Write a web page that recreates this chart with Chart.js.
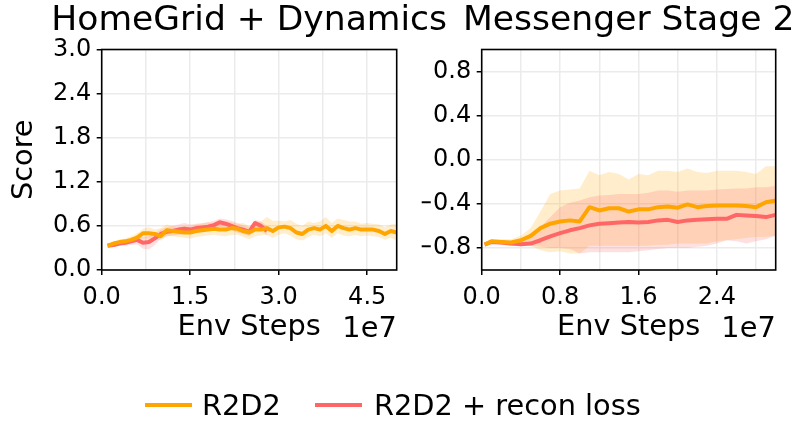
<!DOCTYPE html>
<html><head><meta charset="utf-8">
<script src="https://cdn.jsdelivr.net/npm/chart.js@4.4.1/dist/chart.umd.min.js"></script>
<style>
html,body{margin:0;padding:0;background:#fff;}
#wrap{position:relative;width:794px;height:423px;overflow:hidden;font-family:'DejaVu Sans';background:#fff;}
#wrap canvas{position:absolute;left:0;top:0;}
.lg-line{position:absolute;height:4px;}
.lg-text{position:absolute;font-size:28.8px;line-height:28.8px;color:#000;white-space:nowrap;}
</style></head><body>
<div id="wrap">
<canvas id="c1" width="794" height="423"></canvas>
<canvas id="c2" width="794" height="423"></canvas>
</div>
<script>
// ---------- data (x in units of 1e7 env steps) ----------
const SERIES_NAMES = ['R2D2', 'R2D2 + recon loss'];
const PANEL_TITLES = ['HomeGrid + Dynamics', 'Messenger Stage 2'];

// HomeGrid + Dynamics
const L_X = [0.1,0.2,0.3,0.4,0.5,0.6,0.7,0.8,0.9,1.0,1.1,1.2,1.3,1.4,1.5,1.6,1.7,1.8,1.9,2.0,2.1,2.2,2.3,2.4,2.5,2.6,2.7,2.8,2.9,3.0,3.1,3.2,3.3,3.4,3.5,3.6,3.7,3.8,3.9,4.0,4.1,4.2,4.3,4.4,4.5,4.6,4.7,4.8,4.9,5.0];
const L_R2D2 = [0.33,0.36,0.38,0.39,0.41,0.44,0.50,0.50,0.49,0.46,0.54,0.53,0.52,0.51,0.51,0.53,0.54,0.55,0.56,0.55,0.55,0.57,0.56,0.53,0.51,0.55,0.55,0.57,0.53,0.58,0.59,0.57,0.51,0.49,0.55,0.57,0.55,0.60,0.53,0.60,0.57,0.55,0.57,0.55,0.55,0.55,0.53,0.49,0.53,0.51];
const L_R2D2_UP = [0.35,0.38,0.41,0.43,0.46,0.50,0.56,0.58,0.55,0.57,0.62,0.60,0.58,0.60,0.59,0.62,0.63,0.65,0.64,0.64,0.66,0.65,0.63,0.64,0.60,0.63,0.66,0.72,0.67,0.67,0.66,0.68,0.63,0.60,0.66,0.64,0.66,0.72,0.64,0.70,0.68,0.66,0.66,0.63,0.64,0.63,0.62,0.58,0.62,0.63];
const L_R2D2_LO = [0.31,0.33,0.35,0.36,0.37,0.39,0.43,0.43,0.42,0.40,0.46,0.46,0.45,0.44,0.43,0.45,0.46,0.47,0.48,0.47,0.46,0.48,0.48,0.45,0.42,0.46,0.47,0.48,0.44,0.48,0.50,0.47,0.42,0.40,0.45,0.48,0.46,0.50,0.44,0.50,0.47,0.46,0.48,0.46,0.47,0.46,0.45,0.41,0.44,0.40];
const L_RECON = [0.33,0.34,0.36,0.37,0.39,0.41,0.37,0.38,0.43,0.49,0.52,0.53,0.55,0.56,0.55,0.57,0.58,0.59,0.61,0.65,0.63,0.60,0.57,0.55,0.52,0.64,0.60,0.53];
const L_RECON_UP = [0.35,0.36,0.38,0.40,0.43,0.46,0.45,0.46,0.50,0.55,0.58,0.60,0.62,0.64,0.62,0.63,0.64,0.65,0.67,0.70,0.69,0.67,0.64,0.61,0.58,0.68,0.66,0.60];
const L_RECON_LO = [0.31,0.32,0.33,0.33,0.34,0.35,0.29,0.28,0.34,0.43,0.46,0.47,0.48,0.49,0.49,0.51,0.52,0.53,0.55,0.59,0.57,0.54,0.51,0.49,0.46,0.58,0.54,0.47];

// Messenger Stage 2
const R_X = [0.03,0.1,0.2,0.3,0.4,0.5,0.6,0.7,0.8,0.9,1.0,1.1,1.2,1.3,1.4,1.5,1.6,1.7,1.8,1.9,2.0,2.1,2.2,2.3,2.4,2.5,2.6,2.7,2.8,2.9,3.0];
const R_R2D2 = [-0.77,-0.74,-0.745,-0.75,-0.73,-0.69,-0.62,-0.58,-0.56,-0.55,-0.56,-0.43,-0.46,-0.44,-0.44,-0.47,-0.45,-0.45,-0.43,-0.425,-0.435,-0.405,-0.43,-0.42,-0.415,-0.415,-0.415,-0.42,-0.43,-0.385,-0.37];
const R_R2D2_UP = [-0.76,-0.72,-0.72,-0.72,-0.69,-0.62,-0.47,-0.31,-0.28,-0.27,-0.26,-0.10,-0.14,-0.11,-0.13,-0.18,-0.13,-0.14,-0.10,-0.10,-0.11,-0.08,-0.11,-0.12,-0.10,-0.10,-0.10,-0.11,-0.13,-0.06,-0.06];
const R_R2D2_LO = [-0.78,-0.76,-0.77,-0.78,-0.76,-0.78,-0.82,-0.84,-0.83,-0.85,-0.85,-0.78,-0.78,-0.78,-0.78,-0.78,-0.78,-0.78,-0.77,-0.77,-0.76,-0.76,-0.76,-0.76,-0.74,-0.73,-0.72,-0.71,-0.70,-0.70,-0.69];
const R_RECON = [-0.77,-0.745,-0.75,-0.76,-0.767,-0.76,-0.73,-0.695,-0.665,-0.64,-0.62,-0.595,-0.58,-0.575,-0.57,-0.565,-0.57,-0.565,-0.55,-0.545,-0.565,-0.55,-0.545,-0.54,-0.536,-0.536,-0.50,-0.505,-0.51,-0.52,-0.50];
const R_RECON_UP = [-0.76,-0.73,-0.73,-0.74,-0.72,-0.68,-0.61,-0.52,-0.43,-0.39,-0.37,-0.34,-0.325,-0.32,-0.31,-0.31,-0.31,-0.30,-0.28,-0.28,-0.29,-0.28,-0.28,-0.28,-0.27,-0.265,-0.26,-0.26,-0.25,-0.25,-0.235];
const R_RECON_LO = [-0.78,-0.76,-0.77,-0.78,-0.78,-0.78,-0.79,-0.80,-0.80,-0.81,-0.85,-0.84,-0.84,-0.84,-0.84,-0.84,-0.83,-0.82,-0.81,-0.80,-0.80,-0.80,-0.79,-0.78,-0.76,-0.73,-0.74,-0.76,-0.74,-0.72,-0.69];

// tick / grid positions
const L_X_GRID = [0,0.75,1.5,2.25,3.0,3.75,4.5];
const L_X_LABEL_STEP = 1.5;
const L_Y_TICKS = [0,0.6,1.2,1.8,2.4,3.0];
const R_X_GRID = [0,0.4,0.8,1.2,1.6,2.0,2.4,2.8];
const R_X_LABEL_STEP = 0.8;
const R_Y_TICKS = [-0.8,-0.4,0,0.4,0.8];
const OFFSET_TEXT = '1e7';
const X_TITLE = 'Env Steps';
const Y_TITLE = 'Score';

// ---------- styling ----------
const ORANGE = '#FFA500', RED = '#FF6666';
const ORANGE_FILL = 'rgba(255,165,0,0.2)', RED_FILL = 'rgba(255,102,102,0.2)';
Chart.defaults.font.family = "'DejaVu Sans'";
Chart.defaults.color = '#000';

const pts = (xs, ys) => ys.map((y, i) => ({x: xs[i], y}));
const fmt = v => { const s = Math.abs(v).toFixed(1); return (v < -1e-9 ? '\u2212' : '') + s; };
const onStep = (v, step) => Math.abs(v / step - Math.round(v / step)) < 1e-6;

const panelDecor = {
  id: 'panelDecor',
  afterDraw(chart, args, opts) {
    const {ctx, chartArea: a} = chart;
    ctx.save();
    ctx.strokeStyle = '#000';
    ctx.lineWidth = 1.6;
    ctx.strokeRect(a.left, a.top, a.right - a.left, a.bottom - a.top);
    ctx.fillStyle = '#000';
    ctx.textBaseline = 'alphabetic';
    ctx.font = "34.56px 'DejaVu Sans'";
    ctx.textAlign = 'center';
    ctx.fillText(opts.title, (a.left + a.right) / 2, opts.titleBaseline);
    ctx.font = "28.8px 'DejaVu Sans'";
    ctx.textAlign = 'right';
    ctx.fillText(opts.offsetText, a.right, opts.offsetBaseline);
    ctx.restore();
  }
};

function bandSet(xs, ys, color, fill, order) {
  return {data: pts(xs, ys), borderColor: 'transparent', borderWidth: 0, pointRadius: 0,
          backgroundColor: color, fill: fill, order: order, tension: 0};
}
function lineSet(xs, ys, color, order) {
  return {data: pts(xs, ys), borderColor: color, borderWidth: 4, pointRadius: 0, fill: false,
          order: order, tension: 0, borderJoinStyle: 'round', borderCapStyle: 'butt'};
}

function makeChart(id, cfg) {
  return new Chart(document.getElementById(id), {
    type: 'line',
    data: {datasets: [
      bandSet(cfg.x, cfg.r2Up, ORANGE_FILL, '+1', 4),
      bandSet(cfg.x, cfg.r2Lo, 'transparent', false, 4),
      bandSet(cfg.xr, cfg.rcUp, RED_FILL, '+1', 3),
      bandSet(cfg.xr, cfg.rcLo, 'transparent', false, 3),
      lineSet(cfg.xr, cfg.rc, RED, 1),
      lineSet(cfg.x, cfg.r2, ORANGE, 0)
    ]},
    options: {
      responsive: false, animation: false, events: [],
      layout: {padding: cfg.padding},
      plugins: {
        legend: {display: false}, tooltip: {enabled: false},
        panelDecor: {title: cfg.title, titleBaseline: 29.5, offsetText: OFFSET_TEXT, offsetBaseline: 337}
      },
      scales: {
        x: {
          type: 'linear', min: cfg.xMin, max: cfg.xMax,
          afterBuildTicks: s => { s.ticks = cfg.xGrid.map(v => ({value: v})); },
          afterFit: s => { s.height = 80; },
          ticks: {autoSkip: false, maxRotation: 0, minRotation: 0, padding: 8, font: {size: 24}, color: '#000',
                  callback: v => onStep(v, cfg.xStep) ? fmt(v) : ''},
          grid: {color: '#ebebeb', lineWidth: 1.5, tickLength: 5, tickWidth: 1.5,
                 tickColor: c => (c.tick && onStep(c.tick.value, cfg.xStep)) ? '#000' : 'rgba(0,0,0,0)'},
          border: {display: false},
          title: {display: true, text: X_TITLE, font: {size: 28.8}, color: '#000', padding: {top: 0, bottom: 5}}
        },
        y: {
          type: 'linear', min: cfg.yMin, max: cfg.yMax,
          afterBuildTicks: s => { s.ticks = cfg.yTicks.map(v => ({value: v})); },
          afterFit: s => { s.width = cfg.yWidth; },
          ticks: {padding: 5.5, font: {size: 24}, color: '#000', callback: v => fmt(v)},
          grid: {color: '#ebebeb', lineWidth: 1.5, tickLength: 5, tickWidth: 1.5, tickColor: '#000'},
          border: {display: false},
          title: {display: cfg.yTitle, text: Y_TITLE, font: {size: 28.8}, color: '#000', padding: {top: 7.2, bottom: 0}}
        }
      }
    },
    plugins: [panelDecor]
  });
}

makeChart('c1', {
  title: PANEL_TITLES[0], x: L_X, xr: L_X.slice(0, L_RECON.length),
  r2: L_R2D2, r2Up: L_R2D2_UP, r2Lo: L_R2D2_LO, rc: L_RECON, rcUp: L_RECON_UP, rcLo: L_RECON_LO,
  xMin: 0, xMax: 5.0, yMin: 0, yMax: 3.0, xGrid: L_X_GRID, xStep: L_X_LABEL_STEP, yTicks: L_Y_TICKS,
  yWidth: 101.7, yTitle: true,
  padding: {left: 0, top: 49.5, right: 794 - 396.7, bottom: 73}
});
makeChart('c2', {
  title: PANEL_TITLES[1], x: R_X, xr: R_X,
  r2: R_R2D2, r2Up: R_R2D2_UP, r2Lo: R_R2D2_LO, rc: R_RECON, rcUp: R_RECON_UP, rcLo: R_RECON_LO,
  xMin: 0, xMax: 3.0, yMin: -1.0, yMax: 1.0, xGrid: R_X_GRID, xStep: R_X_LABEL_STEP, yTicks: R_Y_TICKS,
  yWidth: 60, yTitle: false,
  padding: {left: 481.7 - 60, top: 49.5, right: 794 - 775.7, bottom: 73}
});

// ---------- legend (HTML) ----------
const wrap = document.getElementById('wrap');
const legendItems = [
  {name: SERIES_NAMES[0], color: ORANGE, lineLeft: 145, textLeft: 202},
  {name: SERIES_NAMES[1], color: RED, lineLeft: 315, textLeft: 374}
];
legendItems.forEach(it => {
  const ln = document.createElement('div');
  ln.className = 'lg-line';
  ln.style.cssText = `left:${it.lineLeft}px;top:403px;width:47px;background:${it.color}`;
  wrap.appendChild(ln);
  const tx = document.createElement('div');
  tx.className = 'lg-text';
  tx.style.cssText = `left:${it.textLeft}px;top:390.6px`;
  tx.textContent = it.name;
  wrap.appendChild(tx);
});
</script>
</body></html>
